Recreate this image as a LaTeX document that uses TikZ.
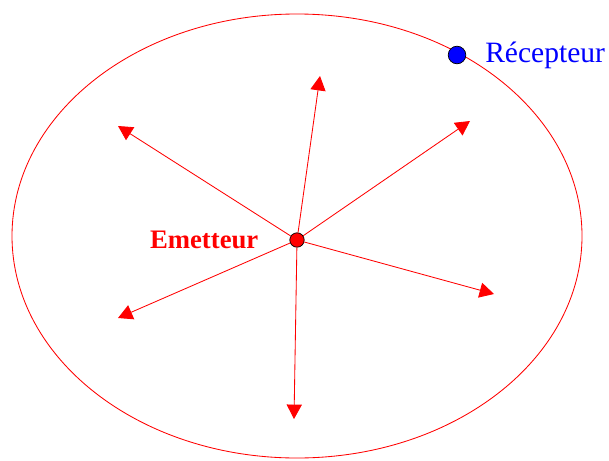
\documentclass[tikz,border=0pt]{standalone}
\usepackage{fontspec}
\setmainfont{Liberation Serif}
\usetikzlibrary{arrows.meta,positioning}
\definecolor{wavered}{RGB}{255,0,0}
\definecolor{rxblue}{RGB}{0,0,255}
\tikzset{
  ray/.style={-{Triangle[length=3.6mm,width=3.8mm]}, draw=wavered, line width=0.6pt},
  zone/.style={draw=wavered, line width=0.6pt},
  station/.style={circle, draw=black, line width=0.5pt, inner sep=0pt},
  stationlabel/.style={inner sep=2pt, font=\fontsize{19}{22}\selectfont}
}

\begin{document}
\begin{tikzpicture}[x=0.025cm,y=-0.025cm]
\useasboundingbox (0,0) rectangle (609,460);
% coverage zone
\draw[zone] (297,236) ellipse [x radius=285, y radius=222];

\node[station, fill=wavered, minimum size=3.6mm] (em) at (297,240) {};
\node[station, fill=rxblue, minimum size=4.4mm] (rx) at (457,55) {};
\node[stationlabel, text=wavered, font=\bfseries\fontsize{19}{22}\selectfont, left=7mm of em] (emlabel) {Emetteur};
\node[stationlabel, text=rxblue, font=\fontsize{21}{24}\selectfont, right=4mm of rx] (rxlabel) {Récepteur};

% wave directions
\coordinate (n) at (320,76);
\coordinate (nw) at (118,126);
\coordinate (ne) at (470,121);
\coordinate (sw) at (118,318);
\coordinate (se) at (494,294);
\coordinate (s) at (294,419);

\draw[ray] (em) -- (n);
\draw[ray] (em) -- (nw);
\draw[ray] (em) -- (ne);
\draw[ray] (em) -- (sw);
\draw[ray] (em) -- (se);
\draw[ray] (em) -- (s);
\end{tikzpicture}
\end{document}
